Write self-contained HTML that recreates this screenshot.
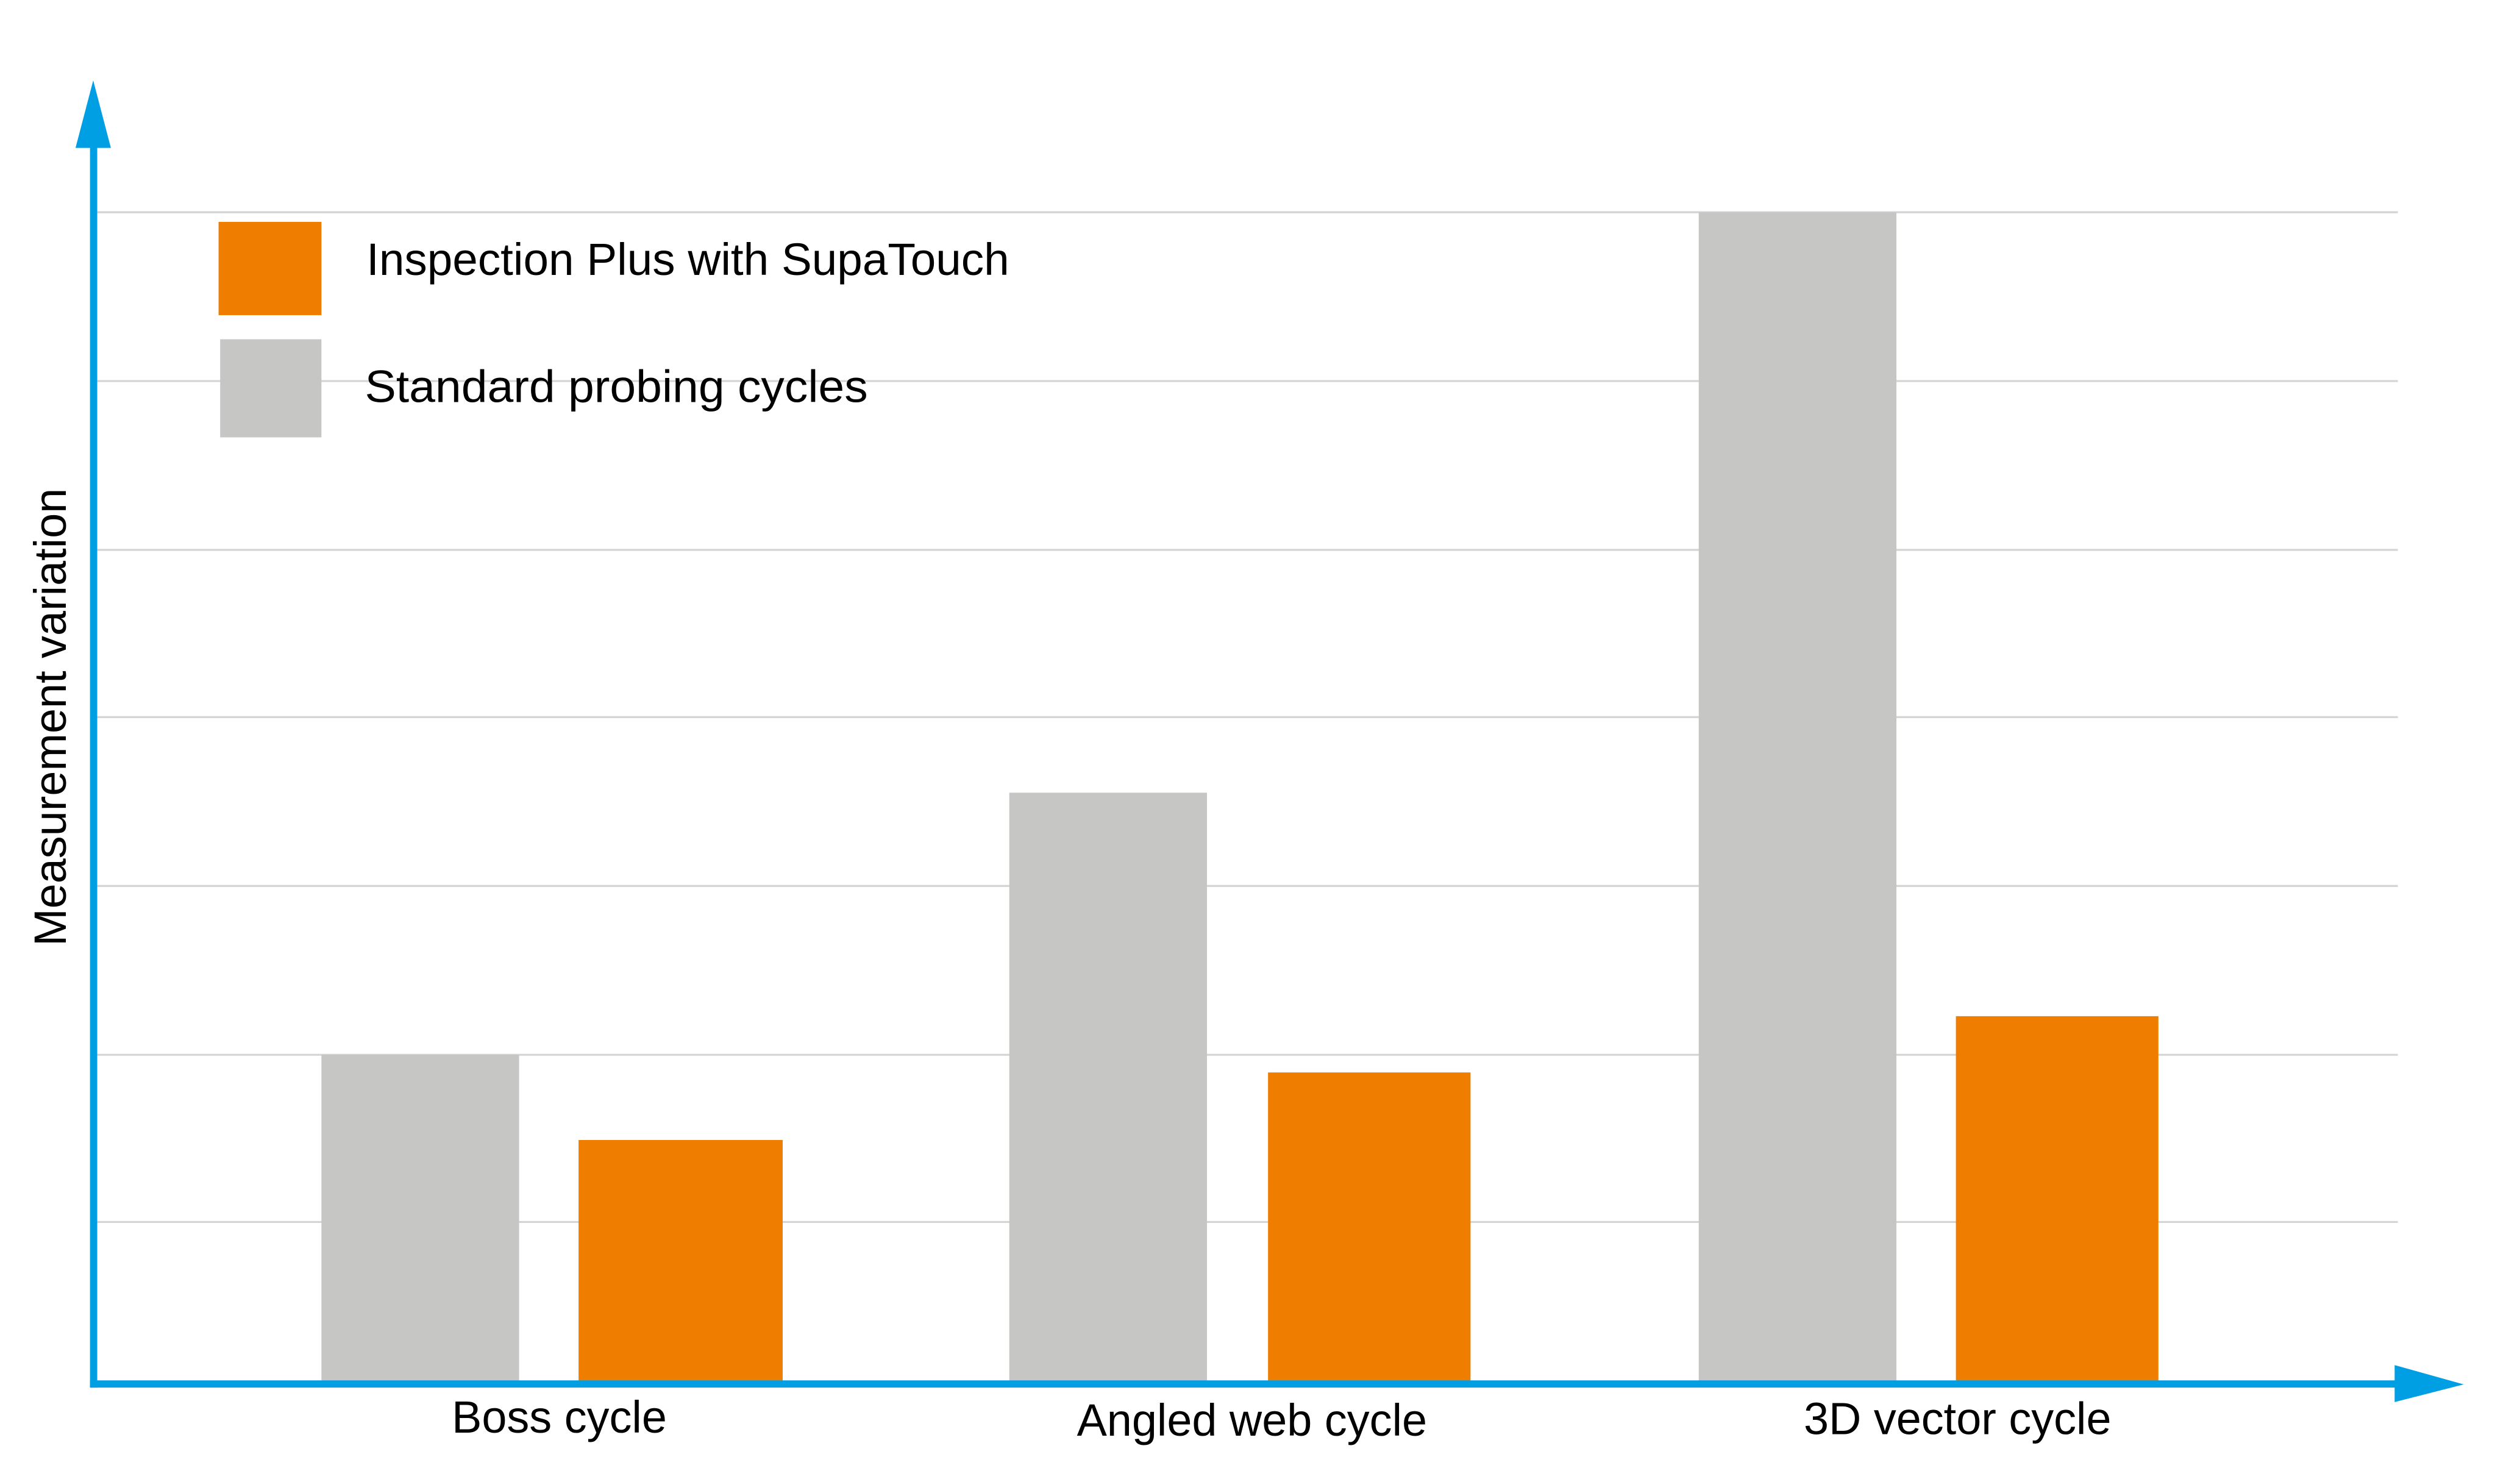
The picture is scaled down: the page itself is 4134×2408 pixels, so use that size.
<!DOCTYPE html>
<html><head><meta charset="utf-8"><style>html,body{margin:0;padding:0;background:#fff}svg{display:block}</style></head>
<body>
<svg width="4134" height="2408" viewBox="0 0 1568 913" preserveAspectRatio="none" xmlns="http://www.w3.org/2000/svg" font-family="Liberation Sans, Arial, sans-serif">
<rect width="1568" height="913" fill="#fff"/>
<g stroke="#d4d4d4" stroke-width="1.2">
<line x1="60" y1="132" x2="1492" y2="132"/>
<line x1="60" y1="237" x2="1492" y2="237"/>
<line x1="60" y1="342" x2="1492" y2="342"/>
<line x1="60" y1="446" x2="1492" y2="446"/>
<line x1="60" y1="551" x2="1492" y2="551"/>
<line x1="60" y1="656" x2="1492" y2="656"/>
<line x1="60" y1="760" x2="1492" y2="760"/>
</g>
<rect x="200" y="656" width="123" height="204" fill="#c6c6c5"/>
<rect x="360" y="709" width="127" height="151" fill="#ef7d00"/>
<rect x="628" y="493" width="123" height="367" fill="#c6c6c5"/>
<rect x="789" y="667" width="126" height="193" fill="#ef7d00"/>
<rect x="1057" y="132" width="123" height="728" fill="#c6c6c5"/>
<rect x="1217" y="632" width="126" height="228" fill="#ef7d00"/>
<rect x="136" y="138" width="64" height="58" fill="#ef7d00"/>
<rect x="137" y="211" width="63" height="61" fill="#c6c6c5"/>
<text x="228" y="171" font-size="28" textLength="400" lengthAdjust="spacingAndGlyphs">Inspection Plus with SupaTouch</text>
<text x="227" y="250" font-size="28" textLength="313" lengthAdjust="spacingAndGlyphs">Standard probing cycles</text>
<g fill="#009fe3">
<rect x="56" y="88" width="4.5" height="775"/>
<rect x="56" y="858.5" width="1440" height="4.5"/>
<polygon points="58,50 47,92 69,92"/>
<polygon points="1533,861 1490,849 1490,872"/>
</g>
<text x="348" y="891" font-size="28" text-anchor="middle">Boss cycle</text>
<text x="779" y="893" font-size="28" text-anchor="middle">Angled web cycle</text>
<text x="1218" y="892" font-size="28" text-anchor="middle">3D vector cycle</text>
<text transform="translate(41,446) rotate(-90)" font-size="28" text-anchor="middle">Measurement variation</text>
</svg>
</body></html>
